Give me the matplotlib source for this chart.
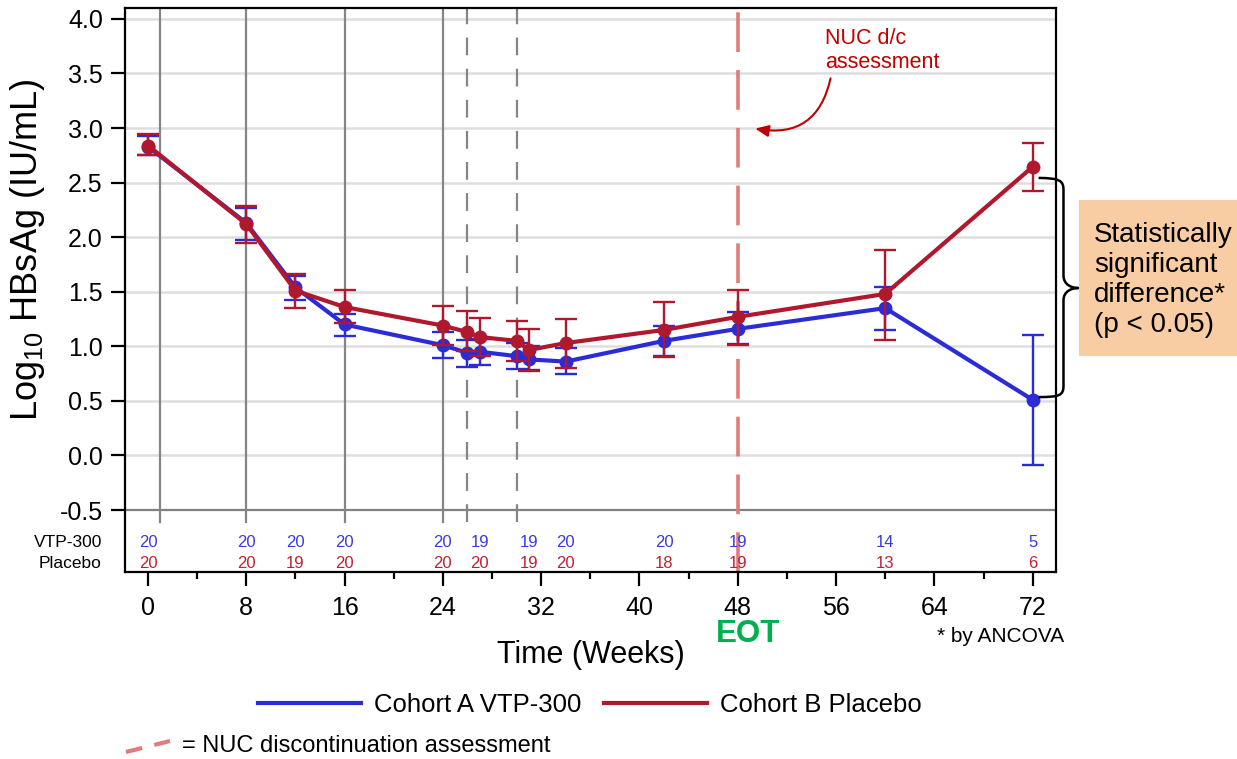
import matplotlib
matplotlib.use("Agg")
import matplotlib.pyplot as plt
from matplotlib.lines import Line2D
from matplotlib.patches import Rectangle, PathPatch
from matplotlib.path import Path
import numpy as np

plt.rcParams['font.family'] = ['Liberation Sans', 'DejaVu Sans']
plt.rcParams['mathtext.fontset'] = 'custom'
plt.rcParams['mathtext.rm'] = 'Liberation Sans'
plt.rcParams['mathtext.it'] = 'Liberation Sans:italic'

# ---------------- data ----------------
weeks = [0, 8, 12, 16, 24, 26, 27, 30, 31, 34, 42, 48, 60, 72]
vtp_mean = [2.83, 2.13, 1.54, 1.20, 1.01, 0.94, 0.95, 0.91, 0.88, 0.86, 1.05, 1.16, 1.35, 0.51]
vtp_lo   = [2.75, 1.97, 1.42, 1.095, 0.89, 0.81, 0.83, 0.79, 0.78, 0.75, 0.91, 1.02, 1.15, -0.085]
vtp_hi   = [2.93, 2.27, 1.64, 1.30, 1.13, 1.06, 1.07, 1.03, 1.00, 0.98, 1.19, 1.31, 1.545, 1.107]
pbo_mean = [2.84, 2.12, 1.51, 1.36, 1.19, 1.13, 1.085, 1.05, 0.966, 1.03, 1.15, 1.27, 1.48, 2.645]
pbo_lo   = [2.75, 1.95, 1.35, 1.21, 1.01, 0.96, 0.91, 0.865, 0.77, 0.80, 0.90, 1.015, 1.06, 2.425]
pbo_hi   = [2.945, 2.29, 1.66, 1.52, 1.37, 1.32, 1.26, 1.23, 1.16, 1.25, 1.41, 1.52, 1.88, 2.86]

count_weeks = [0, 8, 12, 16, 24, 27, 31, 34, 42, 48, 60, 72]
vtp_n = [20, 20, 20, 20, 20, 19, 19, 20, 20, 19, 14, 5]
pbo_n = [20, 20, 19, 20, 20, 20, 19, 20, 18, 19, 13, 6]

solid_vlines = [1, 8, 16, 24]
dashed_vlines = [26, 30]
nuc_week = 48

yticks = [-0.5, 0.0, 0.5, 1.0, 1.5, 2.0, 2.5, 3.0, 3.5, 4.0]
xticks = [0, 8, 16, 24, 32, 40, 48, 56, 64, 72]

BLUE = '#2B2BD8'
RED = '#B0182E'
CBLUE = '#3A3AE0'
CRED = '#C02035'
NUCRED = '#E07C7C'

# ---------------- figure ----------------
W, H = 1237, 759
fig = plt.figure(figsize=(W / 100, H / 100), dpi=100)
ax = fig.add_axes([125 / W, 1 - 572 / H, 931 / W, 564 / H])
ymin, ymax = -1.068, 4.10
ax.set_xlim(-1.87, 73.9)
ax.set_ylim(ymin, ymax)

# grid
for yv in yticks:
    if yv == -0.5:
        ax.axhline(yv, color='#808080', lw=1.6, zorder=1)
    else:
        ax.axhline(yv, color='#DEDEDE', lw=1.8, zorder=0.5)

vfrac = (-0.61 - ymin) / (ymax - ymin)
for wk in solid_vlines:
    ax.axvline(wk, ymin=vfrac, ymax=1, color='#858585', lw=1.6, zorder=1)
for wk in dashed_vlines:
    ax.axvline(wk, ymin=vfrac, ymax=1, color='#858585', lw=1.6, zorder=1,
               dashes=(8, 6))
ax.axvline(nuc_week, ymin=0, ymax=0.993, color=NUCRED, lw=2.6, zorder=1.5,
           dashes=(11, 5))

# series
for mean, lo, hi, col, lab, z in [(vtp_mean, vtp_lo, vtp_hi, BLUE, 'Cohort A VTP-300', 3),
                                   (pbo_mean, pbo_lo, pbo_hi, RED, 'Cohort B Placebo', 4)]:
    mean = np.array(mean); lo = np.array(lo); hi = np.array(hi)
    ax.errorbar(weeks, mean, yerr=[mean - lo, hi - mean], fmt='none', ecolor=col,
                elinewidth=1.7, capsize=8, capthick=1.7, zorder=z)
    ax.plot(weeks, mean, color=col, lw=3, marker='o', ms=9, zorder=z + 0.5,
            label=lab)

# counts table
y_vtp = (455.4 - 542) / 109.1
y_pbo = (455.4 - 563) / 109.1
for wk, nv, npb in zip(count_weeks, vtp_n, pbo_n):
    ax.text(wk, y_vtp, str(nv), color=CBLUE, fontsize=12, ha='center', va='center', zorder=5)
    ax.text(wk, y_pbo, str(npb), color=CRED, fontsize=12, ha='center', va='center', zorder=5)
ax.text(-3.75, y_vtp, 'VTP-300', fontsize=12.5, ha='right', va='center', clip_on=False)
ax.text(-3.75, y_pbo, 'Placebo', fontsize=12.5, ha='right', va='center', clip_on=False)

# axes styling
for s in ax.spines.values():
    s.set_linewidth(1.6)
    s.set_color('black')
ax.set_yticks(yticks)
ax.set_yticklabels([f'{v:.1f}' for v in yticks])
ax.set_xticks(xticks)
ax.set_xticks([4, 12, 20, 28, 36, 44, 52, 60, 68], minor=True)
ax.tick_params(axis='y', direction='out', length=10, width=1.6, labelsize=18, pad=6)
ax.tick_params(axis='x', which='major', direction='out', length=10, width=1.6, labelsize=18, pad=7)
ax.tick_params(axis='x', which='minor', direction='out', length=5, width=1.6)

ax.set_ylabel('Log$_{10}$ HBsAg (IU/mL)', fontsize=26)
ax.yaxis.set_label_coords(-0.105, (572 - 250) / 564)
ax.yaxis.label.set_va('center')
ax.set_xlabel('Time (Weeks)', fontsize=22)
ax.xaxis.set_label_coords(0.5, -(655 - 572) / 564)
ax.xaxis.label.set_va('center')

xa = ax.get_xaxis_transform()
ax.text(48.8, -(634 - 572) / 564, 'EOT', transform=xa, color='#00B050', fontsize=22.5,
        fontweight='bold', ha='center', va='center', clip_on=False)
ax.text(64.25, -(637 - 572) / 564, '* by ANCOVA', transform=xa, fontsize=15,
        ha='left', va='center', clip_on=False)

# NUC d/c annotation
ax.text(55.1, 3.92, 'NUC d/c\nassessment', color='#C00000', fontsize=15.5,
        ha='left', va='top', linespacing=1.2, zorder=6)
ax.annotate('', xy=(49.2, 3.0), xytext=(55.6, 3.48),
            arrowprops=dict(arrowstyle='-|>,head_length=0.8,head_width=0.35', color='#C00000',
                            lw=1.5, connectionstyle='arc3,rad=-0.5'), zorder=6)

# brace
bx0, bx1, btip = 72.48, 74.51, 75.73
verts = [(bx0, 2.543), (bx1 - 0.3, 2.54), (bx1, 2.52), (bx1, 2.43),
         (bx1, 1.65),
         (bx1, 1.56), (btip - 0.5, 1.534), (btip, 1.534),
         (btip - 0.5, 1.534), (bx1, 1.51), (bx1, 1.42),
         (bx1, 0.64),
         (bx1, 0.55), (bx1 - 0.3, 0.535), (bx0, 0.535)]
codes = [Path.MOVETO, Path.CURVE4, Path.CURVE4, Path.CURVE4,
         Path.LINETO,
         Path.CURVE4, Path.CURVE4, Path.CURVE4,
         Path.CURVE4, Path.CURVE4, Path.CURVE4,
         Path.LINETO,
         Path.CURVE4, Path.CURVE4, Path.CURVE4]
ax.add_patch(PathPatch(Path(verts, codes), fill=False, lw=1.8, color='black',
                       clip_on=False, zorder=6))

# stats box
fig.add_artist(Rectangle((1079 / W, 1 - 356 / H), (1240 - 1079) / W, 156 / H,
                         transform=fig.transFigure, facecolor='#F9CDA3', edgecolor='none'))
fig.text(1094 / W, 1 - 280 / H, 'Statistically\nsignificant\ndifference*\n(p < 0.05)',
         fontsize=20, ha='left', va='center', linespacing=1.2)

# legend
handles = [Line2D([], [], color=BLUE, lw=3), Line2D([], [], color=RED, lw=3)]
fig.legend(handles, ['Cohort A VTP-300', 'Cohort B Placebo'], loc='center',
           bbox_to_anchor=(590 / W, 1 - 705 / H), ncol=2, frameon=False, fontsize=18.5,
           handlelength=4.0, handletextpad=0.5, columnspacing=0.9)

fig.add_artist(Line2D([126 / W, 170 / W], [1 - 752 / H, 1 - 741 / H],
                      transform=fig.transFigure, color=NUCRED, lw=3, dashes=(4, 3)))
fig.text(182 / W, 1 - 746 / H, '= NUC discontinuation assessment', fontsize=17,
         ha='left', va='center')

fig.savefig('out.png', dpi=100)
